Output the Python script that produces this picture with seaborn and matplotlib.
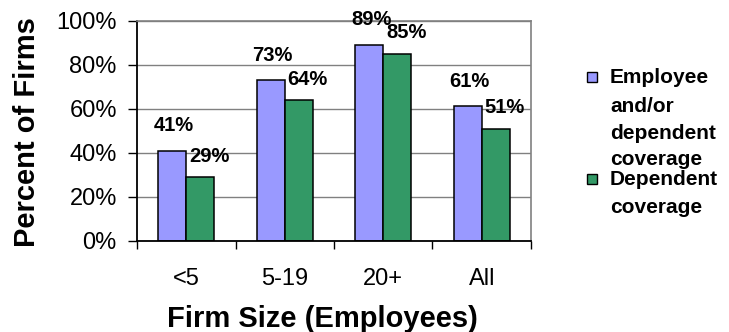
import matplotlib
matplotlib.use("Agg")
import matplotlib.pyplot as plt
from matplotlib.patches import Rectangle
import seaborn as sns
import pandas as pd

# Chart data
categories = ["<5", "5-19", "20+", "All"]
employee_or_dependent = [41, 73, 89, 61]
dependent_only = [29, 64, 85, 51]
series_names = ["Employee and/or dependent coverage", "Dependent coverage"]
legend_lines = [["Employee", "and/or", "dependent", "coverage"],
                ["Dependent", "coverage"]]
y_ticks = [0, 20, 40, 60, 80, 100]
y_tick_labels = ["0%", "20%", "40%", "60%", "80%", "100%"]

colors = ["#9999FF", "#339966"]

sns.set_theme(style="white", rc={
    "text.color": "black", "axes.labelcolor": "black",
    "xtick.color": "black", "ytick.color": "black",
})
plt.rcParams["font.family"] = ["Liberation Sans", "DejaVu Sans"]

W, H = 729, 332
fig = plt.figure(figsize=(W / 100, H / 100), dpi=100)
ax = fig.add_axes([137 / W, 1 - 240.7 / H, (531 - 137) / W, (240.7 - 20.7) / H])

df = pd.DataFrame({
    "Firm Size": categories * 2,
    "Percent": employee_or_dependent + dependent_only,
    "Series": [series_names[0]] * len(categories) + [series_names[1]] * len(categories),
})

sns.barplot(data=df, x="Firm Size", y="Percent", hue="Series",
            order=categories, hue_order=series_names, palette=colors,
            width=0.57, edgecolor="black", linewidth=1.1, saturation=1,
            legend=False, ax=ax, zorder=3)

ax.set_xlim(-0.5, len(categories) - 0.5)
ax.set_ylim(0, 100)

# Grid and frame
ax.set_yticks(y_ticks)
ax.set_yticklabels(y_tick_labels, fontsize=17, color="black")
ax.yaxis.grid(True, color="#808080", linewidth=1.0, zorder=0)
ax.set_axisbelow(True)
for side in ["left", "bottom"]:
    ax.spines[side].set_color("black")
    ax.spines[side].set_linewidth(1.3)
for side in ["top", "right"]:
    ax.spines[side].set_color("#808080")
    ax.spines[side].set_linewidth(1.2)
ax.spines["bottom"].set_zorder(4)

# Ticks between categories, labels centred on categories
ax.set_xticks([i - 0.5 for i in range(len(categories) + 1)])
ax.set_xticklabels([])
ax.set_xticks(range(len(categories)), minor=True)
ax.set_xticklabels(categories, minor=True, fontsize=17, color="black")
ax.tick_params(axis="x", which="major", direction="out", length=5.5, width=1.0,
               color="black", bottom=True)
ax.tick_params(axis="x", which="minor", length=0, pad=20, bottom=True)
ax.tick_params(axis="y", direction="out", length=6.5, width=1.0, color="black",
               left=True, pad=8)

# Value labels above each bar
label_offsets = [(1.5, 18), (6.5, 15)]
for container, values, (dx, dy) in zip(ax.containers, [employee_or_dependent, dependent_only], label_offsets):
    for bar, v in zip(container, values):
        ax.annotate(f"{v}%", xy=(bar.get_x() + bar.get_width() / 2, v),
                    xytext=(dx, dy), textcoords="offset points",
                    ha="center", va="center", fontsize=14.5, fontweight="bold",
                    color="black", annotation_clip=False, zorder=5)

# Axis titles
ax.set_xlabel("Firm Size (Employees)", fontsize=21, fontweight="bold", color="black")
ax.xaxis.label.set_va("baseline")
ax.xaxis.set_label_coords((322 - 137) / (531 - 137), (240.7 - 327) / 220)
ax.set_ylabel("Percent of Firms", fontsize=21, fontweight="bold", color="black")
ax.yaxis.label.set_va("center")
ax.yaxis.set_label_coords((27 - 137) / (531 - 137), (240.7 - 132) / 220)

# Legend
def fx(px):
    return px / W

def fy(py):
    return 1 - py / H

baselines = [[83, 112, 139, 165], [185, 213]]
square_tops = [72, 174]
for color, lines, bases, top in zip(colors, legend_lines, baselines, square_tops):
    fig.patches.append(Rectangle((fx(587), fy(top + 10)), 10 / W, 10 / H,
                                 transform=fig.transFigure, facecolor=color,
                                 edgecolor="black", linewidth=1.0))
    for line, b in zip(lines, bases):
        fig.text(fx(610), fy(b), line, fontsize=15, fontweight="bold",
                 ha="left", va="baseline", color="black")

fig.savefig("out.png", dpi=100)
